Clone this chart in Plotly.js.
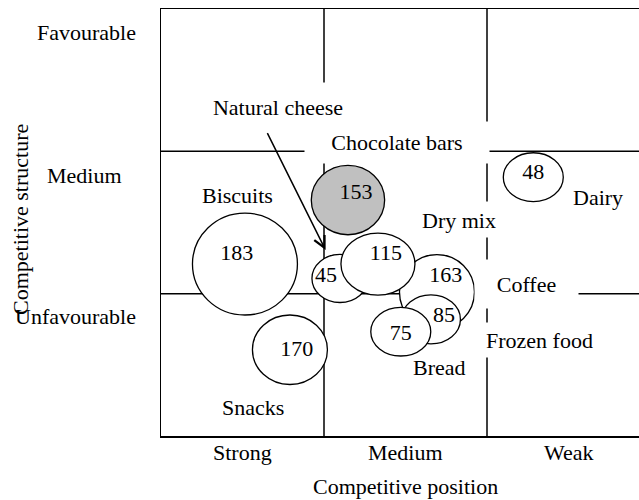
<!DOCTYPE html>
<html>
<head>
<meta charset="utf-8">
<script src="https://cdn.plot.ly/plotly-3.0.1.min.js"></script>
<style>html,body{margin:0;padding:0;background:#fff;overflow:hidden}</style>
</head>
<body>
<div id="chart" style="width:639px;height:500px"></div>
<script>
// axis categories
var positions = ["Strong", "Medium", "Weak"];
var structures = ["Unfavourable", "Medium", "Favourable"];

// bubbles: value, centre (x = competitive position, y = competitive structure), half sizes
var values = [183, 170, 153, 48, 45, 163, 115, 85, 75];
var cx = [0.515, 0.791, 1.147, 2.284, 1.098, 1.693, 1.331, 1.656, 1.471];
var cy = [1.208, 0.606, 1.658, 1.818, 1.107, 1.012, 1.208, 0.819, 0.733];
var rx = [0.322, 0.230, 0.225, 0.184, 0.172, 0.230, 0.227, 0.181, 0.184];
var ry = [0.358, 0.244, 0.244, 0.172, 0.169, 0.263, 0.218, 0.172, 0.171];
// where the number sits inside each bubble
var lx = [0.464, 0.833, 1.196, 2.284, 1.012, 1.747, 1.380, 1.736, 1.471];
var ly = [1.272, 0.604, 1.705, 1.846, 1.120, 1.124, 1.272, 0.838, 0.710];

// product names
var products = ["Natural cheese", "Chocolate bars", "Biscuits", "Dry mix", "Dairy",
                "Coffee", "Frozen food", "Bread", "Snacks"];
var px = [0.718, 1.448, 0.472, 1.828, 2.681, 2.242, 2.325, 1.706, 0.564];
var py = [2.312, 2.062, 1.693, 1.521, 1.679, 1.068, 0.674, 0.478, 0.197];

// arrow from the "Natural cheese" label to its bubble
var arrowFrom = [0.648, 2.138];
var arrowTo = [1.010, 1.306];

var highlighted = 153;
var serif = "Liberation Serif, Times New Roman, serif";

// white boxes behind some labels (they break the grid lines)
var boxes = {
  "Natural cheese": [140, 40, "middle"],
  "Chocolate bars": [176, 33, "middle"],
  "Dry mix": [80, 27, "bottom"],
  "Coffee": [95, 40, "middle"],
  "Frozen food": [115, 26, "middle"]
};

var shapes = [];
[1, 2].forEach(function (v) {
  shapes.push({type: "line", xref: "x", yref: "y", x0: v, x1: v, y0: 0, y1: 3,
               line: {color: "black", width: 1.5}, layer: "below"});
  shapes.push({type: "line", xref: "x", yref: "y", x0: 0, x1: 3, y0: v, y1: v,
               line: {color: "black", width: 1.5}, layer: "below"});
});
values.forEach(function (v, i) {
  shapes.push({
    type: "circle", xref: "x", yref: "y",
    x0: cx[i] - rx[i], x1: cx[i] + rx[i], y0: cy[i] - ry[i], y1: cy[i] + ry[i],
    fillcolor: v === highlighted ? "#c0c0c0" : "white",
    line: {color: "black", width: 1.3}, layer: "below"
  });
});

var annotations = [];
products.forEach(function (name, i) {
  var a = {x: px[i], y: py[i], xref: "x", yref: "y", text: name, showarrow: false,
           font: {family: serif, size: 22, color: "black"}};
  if (boxes[name]) {
    a.bgcolor = "white";
    a.width = boxes[name][0];
    a.height = boxes[name][1];
    a.valign = boxes[name][2];
    a.borderpad = 4;
  }
  annotations.push(a);
});
annotations.push({
  x: arrowTo[0], y: arrowTo[1], ax: arrowFrom[0], ay: arrowFrom[1],
  xref: "x", yref: "y", axref: "x", ayref: "y", text: "",
  showarrow: true, arrowhead: 5, arrowsize: 1.5, arrowwidth: 1.5, arrowcolor: "black", standoff: 0
});
// column labels under the grid
positions.forEach(function (p, i) {
  annotations.push({x: i + 0.5, y: -0.0398, xref: "x", yref: "paper", text: p,
                    showarrow: false, xanchor: "center", yanchor: "middle",
                    font: {family: serif, size: 22, color: "black"}});
});
// row labels on the left
var rowPos = [[-0.1799, 0.2810], [-0.159, 0.6112], [-0.1569, 0.9461]];
structures.forEach(function (s, i) {
  annotations.push({x: rowPos[i][0], y: rowPos[i][1], xref: "paper", yref: "paper",
                    text: s, showarrow: false, xanchor: "center", yanchor: "middle",
                    font: {family: serif, size: 22, color: "black"}});
});
annotations.push({x: -0.2929, y: 0.5082, xref: "paper", yref: "paper", text: "Competitive structure",
                  textangle: -90, showarrow: false, xanchor: "center", yanchor: "middle",
                  font: {family: serif, size: 22, color: "black"}});
annotations.push({x: 1.5, y: -0.1194, xref: "x", yref: "paper", text: "Competitive position",
                  showarrow: false, xanchor: "center", yanchor: "middle",
                  font: {family: serif, size: 22, color: "black"}});

var data = [{
  x: lx, y: ly, text: values.map(String), mode: "text", type: "scatter",
  textposition: "middle center", textfont: {family: serif, size: 22, color: "black"},
  hoverinfo: "none", showlegend: false
}];

var layout = {
  width: 639, height: 500,
  margin: {l: 161, r: 0, t: 9, b: 64},
  paper_bgcolor: "white", plot_bgcolor: "white",
  font: {family: serif, size: 22, color: "black"},
  showlegend: false,
  xaxis: {range: [0, 478 / 163], showgrid: false, zeroline: false, showline: true, mirror: true,
          linecolor: "black", linewidth: 1.5, ticks: "", showticklabels: false, fixedrange: true},
  yaxis: {range: [0, 3], showgrid: false, zeroline: false, showline: true,
          linecolor: "black", linewidth: 1.5, ticks: "", showticklabels: false, fixedrange: true},
  shapes: shapes,
  annotations: annotations
};

Plotly.newPlot("chart", data, layout, {displayModeBar: false, staticPlot: true});
</script>
</body>
</html>
